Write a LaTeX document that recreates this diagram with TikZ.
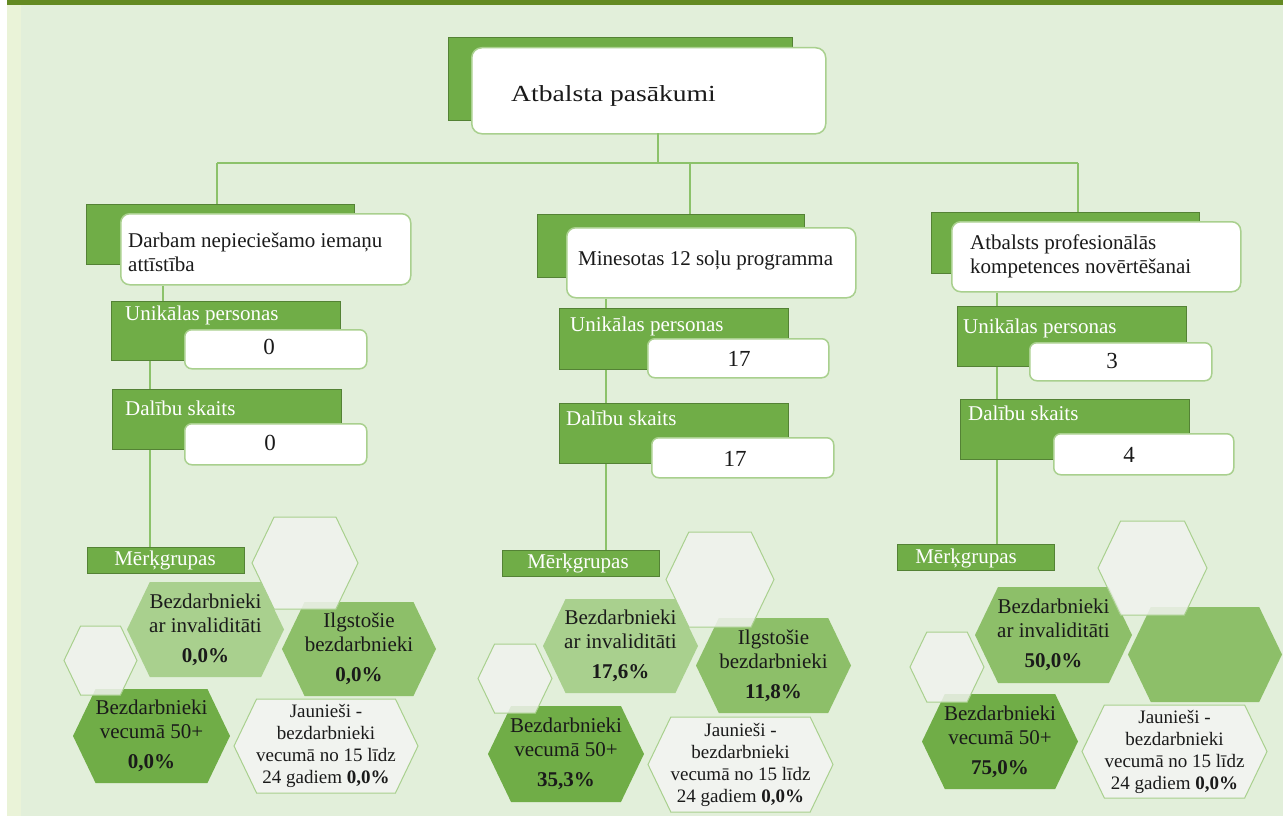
\documentclass[tikz,border=0pt]{standalone}
\usepackage{fontspec}
\setmainfont{Liberation Serif}
\usepackage{graphicx}
\definecolor{bgmain}{HTML}{E2EFDA}
\definecolor{bgstrip}{HTML}{EAF3D8}
\definecolor{topbar}{HTML}{648A22}
\definecolor{gA}{HTML}{70AD47}
\definecolor{gD}{HTML}{548235}
\definecolor{gL}{HTML}{A9D08E}
\definecolor{gM}{HTML}{8DBF69}
\definecolor{gC}{HTML}{8CC26A}
\definecolor{hexW}{HTML}{F1F3EF}
\definecolor{txt}{HTML}{1A1A1A}
\newcommand\fs[2]{\fontsize{#1}{#2}\selectfont}
\newcommand\hexa[5]{%
  \path[#1] ({#2+0.24*(#5-#3)},#3) -- ({#4-0.24*(#5-#3)},#3) -- (#4,{(#3+#5)/2})
    -- ({#4-0.24*(#5-#3)},#5) -- ({#2+0.24*(#5-#3)},#5) -- (#2,{(#3+#5)/2}) -- cycle;}
\tikzset{
  backrect/.style={draw=gD, fill=gA, line width=0.8pt, anchor=north west, inner sep=0pt},
  wbox/.style={draw=gL, fill=white, line width=1.5pt, rounded corners=7pt, anchor=north west, inner sep=0pt},
  conn/.style={draw=gC, line width=1.5pt},
  wlabel/.style={text=white, font=\fs{21}{24}, anchor=base west, inner sep=0pt},
  mlabel/.style={text=white, font=\fs{21}{24}, anchor=base, inner sep=0pt},
  num/.style={font=\fs{23}{26}, anchor=base, inner sep=0pt, text=txt},
  htext/.style={font=\fs{21}{24}, inner sep=0pt, align=left, text=txt},
  hxt/.style={align=center, font=\fs{21}{24}, inner sep=0pt, text=txt},
  jxt/.style={align=center, font=\fs{19}{22}, inner sep=0pt, text=txt},
  hexlight/.style={fill=gL},
  hexmid/.style={fill=gM},
  hexdark/.style={fill=gA},
  hexwhite/.style={fill=hexW, draw=gL, line width=1pt, fill opacity=0.85},
  hexj/.style={fill=hexW, draw=gL, line width=1pt}
}
\begin{document}
\begin{tikzpicture}[x=1pt,y=-1pt]
\useasboundingbox (0,0) rectangle (1283,816);
% background
\fill[white] (0,0) rectangle (1283,816);
\fill[bgstrip] (7,0) rectangle (1283,816);
\fill[bgmain] (21,0) rectangle (1283,816);
\fill[topbar] (7,0) rectangle (1283,5);

% title
\node[backrect, minimum width=344pt, minimum height=83pt] (tback) at (448,37) {};
\node[wbox, rounded corners=10pt, minimum width=354pt, minimum height=86pt] (tbox) at (471,47) {};
\node[font=\fs{23}{26}, anchor=base west, inner sep=0pt, text=txt] (ttext) at (511,102) {\scalebox{1.2}[1]{Atbalsta pasākumi}};

% column headers
\node[backrect, minimum width=268pt, minimum height=60pt] (h1back) at (86,204) {};
\node[wbox, rounded corners=9pt, minimum width=290pt, minimum height=71pt] (h1box) at (120,213) {};
\node[htext, anchor=north west] (h1t) at (128,232.5) {Darbam nepieciešamo iemaņu\\attīstība};

\node[backrect, minimum width=267pt, minimum height=63pt] (h2back) at (537,214) {};
\node[wbox, rounded corners=9pt, minimum width=289pt, minimum height=70pt] (h2box) at (566,227) {};
\node[htext, anchor=base west] (h2t) at (578,265) {Minesotas 12 soļu programma};

\node[backrect, minimum width=268pt, minimum height=61pt] (h3back) at (931,212) {};
\node[wbox, rounded corners=9pt, minimum width=289pt, minimum height=70pt] (h3box) at (951,221) {};
\node[htext, anchor=north west] (h3t) at (970,234.7) {Atbalsts profesionālās\\kompetences novērtēšanai};

% column 1 stats
\node[backrect, minimum width=229pt, minimum height=59pt] (u1back) at (111,301) {};
\node[wlabel] (u1l) at (125,320) {Unikālas personas};
\node[wbox, minimum width=182pt, minimum height=39pt] (u1box) at (184,329) {};
\node[num] (u1n) at (269,354) {0};
\node[backrect, minimum width=229pt, minimum height=60pt] (d1back) at (112,389) {};
\node[wlabel] (d1l) at (125,415) {Dalību skaits};
\node[wbox, minimum width=182pt, minimum height=41pt] (d1box) at (184,423) {};
\node[num] (d1n) at (270,450) {0};

% column 2 stats
\node[backrect, minimum width=229pt, minimum height=61pt] (u2back) at (559,308) {};
\node[wlabel] (u2l) at (570,331) {Unikālas personas};
\node[wbox, minimum width=181pt, minimum height=39pt] (u2box) at (647,338) {};
\node[num] (u2n) at (739,366) {17};
\node[backrect, minimum width=229pt, minimum height=60pt] (d2back) at (559,403) {};
\node[wlabel] (d2l) at (566,425) {Dalību skaits};
\node[wbox, minimum width=182pt, minimum height=40pt] (d2box) at (651,437) {};
\node[num] (d2n) at (735,466) {17};

% column 3 stats
\node[backrect, minimum width=229pt, minimum height=60pt] (u3back) at (957,306) {};
\node[wlabel] (u3l) at (963,333) {Unikālas personas};
\node[wbox, minimum width=182pt, minimum height=38pt] (u3box) at (1029,342) {};
\node[num] (u3n) at (1112,368) {3};
\node[backrect, minimum width=229pt, minimum height=60pt] (d3back) at (960,399) {};
\node[wlabel] (d3l) at (968,420) {Dalību skaits};
\node[wbox, minimum width=180pt, minimum height=41pt] (d3box) at (1053,433) {};
\node[num] (d3n) at (1129,462) {4};

% Merkgrupas
\node[backrect, minimum width=157pt, minimum height=26pt] (m1) at (87,547) {};
\node[mlabel] (m1t) at (165,565) {Mērķgrupas};
\node[backrect, minimum width=157pt, minimum height=26pt] (m2) at (502,550) {};
\node[mlabel] (m2t) at (578,568) {Mērķgrupas};
\node[backrect, minimum width=157pt, minimum height=26pt] (m3) at (897,544) {};
\node[mlabel] (m3t) at (966,563) {Mērķgrupas};

% connectors
\coordinate (busL) at (217,163);
\coordinate (busM) at (690,163);
\coordinate (busR) at (1078,163);
\coordinate (t0) at (658,133);
\coordinate (c1a) at (163,0);
\coordinate (c1) at (150,0);
\coordinate (c2) at (606,0);
\coordinate (c3) at (997,0);
\draw[conn] (t0) -- (t0 |- busL);
\draw[conn] (busL) -- (busR);
\draw[conn] (busL) -- (busL |- h1back.north);
\draw[conn] (busM) -- (busM |- h2back.north);
\draw[conn] (busR) -- (busR |- h3back.north);
\draw[conn] (c1a |- h1box.south) -- (c1a |- u1back.north);
\draw[conn] (c1 |- u1back.south) -- (c1 |- d1back.north);
\draw[conn] (c1 |- d1back.south) -- (c1 |- m1.north);
\draw[conn] (c2 |- h2box.south) -- (c2 |- u2back.north);
\draw[conn] (c2 |- u2back.south) -- (c2 |- d2back.north);
\draw[conn] (c2 |- d2back.south) -- (c2 |- m2.north);
\draw[conn] (c3 |- h3box.south) -- (c3 |- u3back.north);
\draw[conn] (c3 |- u3back.south) -- (c3 |- d3back.north);
\draw[conn] (c3 |- d3back.south) -- (c3 |- m3.north);

% hexagons column 1
\hexa{hexlight}{127}{582}{284}{677}
\hexa{hexmid}{282}{602}{436}{696}
\hexa{hexdark}{73}{689}{230}{783}
\hexa{hexj}{234}{699}{418}{793}
\hexa{hexwhite}{252}{517}{358}{609}
\hexa{hexwhite}{64}{626}{137}{695}
% hexagons column 2
\hexa{hexlight}{543}{599}{698}{693}
\hexa{hexmid}{696}{618}{851}{713}
\hexa{hexdark}{488}{706}{644}{802}
\hexa{hexj}{648}{717}{833}{812}
\hexa{hexwhite}{666}{532}{774}{627}
\hexa{hexwhite}{478}{644}{552}{713}
% hexagons column 3
\hexa{hexmid}{975}{587}{1132}{683}
\hexa{hexmid}{1128}{607}{1282}{702}
\hexa{hexdark}{922}{694}{1078}{789}
\hexa{hexj}{1082}{705}{1267}{798}
\hexa{hexwhite}{1098}{521}{1207}{615}
\hexa{hexwhite}{910}{632}{984}{702}

% hexagon texts
\node[hxt] (inv1) at (205.5,629.5) {Bezdarbnieki\\ar invaliditāti\\[6pt]\textbf{0,0\%}};
\node[hxt] (ilg1) at (359,649) {Ilgstošie\\bezdarbnieki\\[6pt]\textbf{0,0\%}};
\node[hxt] (old1) at (151.5,736) {Bezdarbnieki\\vecumā 50+\\[6pt]\textbf{0,0\%}};
\node[jxt] (yng1) at (326,746) {Jaunieši -\\bezdarbnieki\\vecumā no 15 līdz\\24 gadiem \textbf{0,0\%}};

\node[hxt] (inv2) at (620.5,646) {Bezdarbnieki\\ar invaliditāti\\[6pt]\textbf{17,6\%}};
\node[hxt] (ilg2) at (773.5,665.5) {Ilgstošie\\bezdarbnieki\\[6pt]\textbf{11,8\%}};
\node[hxt] (old2) at (566,754) {Bezdarbnieki\\vecumā 50+\\[6pt]\textbf{35,3\%}};
\node[jxt] (yng2) at (740.5,764.5) {Jaunieši -\\bezdarbnieki\\vecumā no 15 līdz\\24 gadiem \textbf{0,0\%}};

\node[hxt] (inv3) at (1053.5,635) {Bezdarbnieki\\ar invaliditāti\\[6pt]\textbf{50,0\%}};
\node[hxt] (old3) at (1000,741.5) {Bezdarbnieki\\vecumā 50+\\[6pt]\textbf{75,0\%}};
\node[jxt] (yng3) at (1174.5,751.5) {Jaunieši -\\bezdarbnieki\\vecumā no 15 līdz\\24 gadiem \textbf{0,0\%}};
\end{tikzpicture}
\end{document}
